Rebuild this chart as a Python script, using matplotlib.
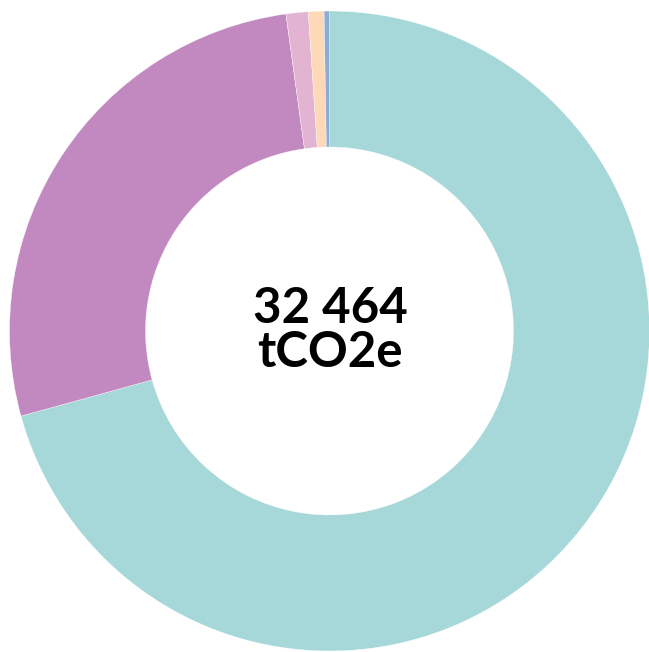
import matplotlib.pyplot as plt

labels = ["Teal", "Purple", "Pink", "Peach", "Blue"]
values = [22960, 8801, 363, 255, 88]
colors = ["#a6d8d9", "#c288c0", "#e2b4d2", "#fdd9b7", "#8badd3"]
total_label = "32 464"
unit_label = "tCO2e"

fig = plt.figure(figsize=(6.49, 6.52), dpi=100)
ax = fig.add_axes([0, 0, 1, 1])
ax.pie(values, colors=colors, startangle=90, counterclock=False,
       radius=320, center=(329.5, 321),
       wedgeprops=dict(width=136, edgecolor="white", linewidth=0.25))
ax.set_xlim(0, 649)
ax.set_ylim(0, 652)
ax.set_aspect("equal")
ax.axis("off")

ax.text(330, 329, total_label, ha="center", va="baseline",
        fontsize=35.5, fontfamily="Lato", fontweight="bold")
ax.text(330, 285, unit_label, ha="center", va="baseline",
        fontsize=35.5, fontfamily="Lato", fontweight="bold")

fig.savefig("out.png", dpi=100)
